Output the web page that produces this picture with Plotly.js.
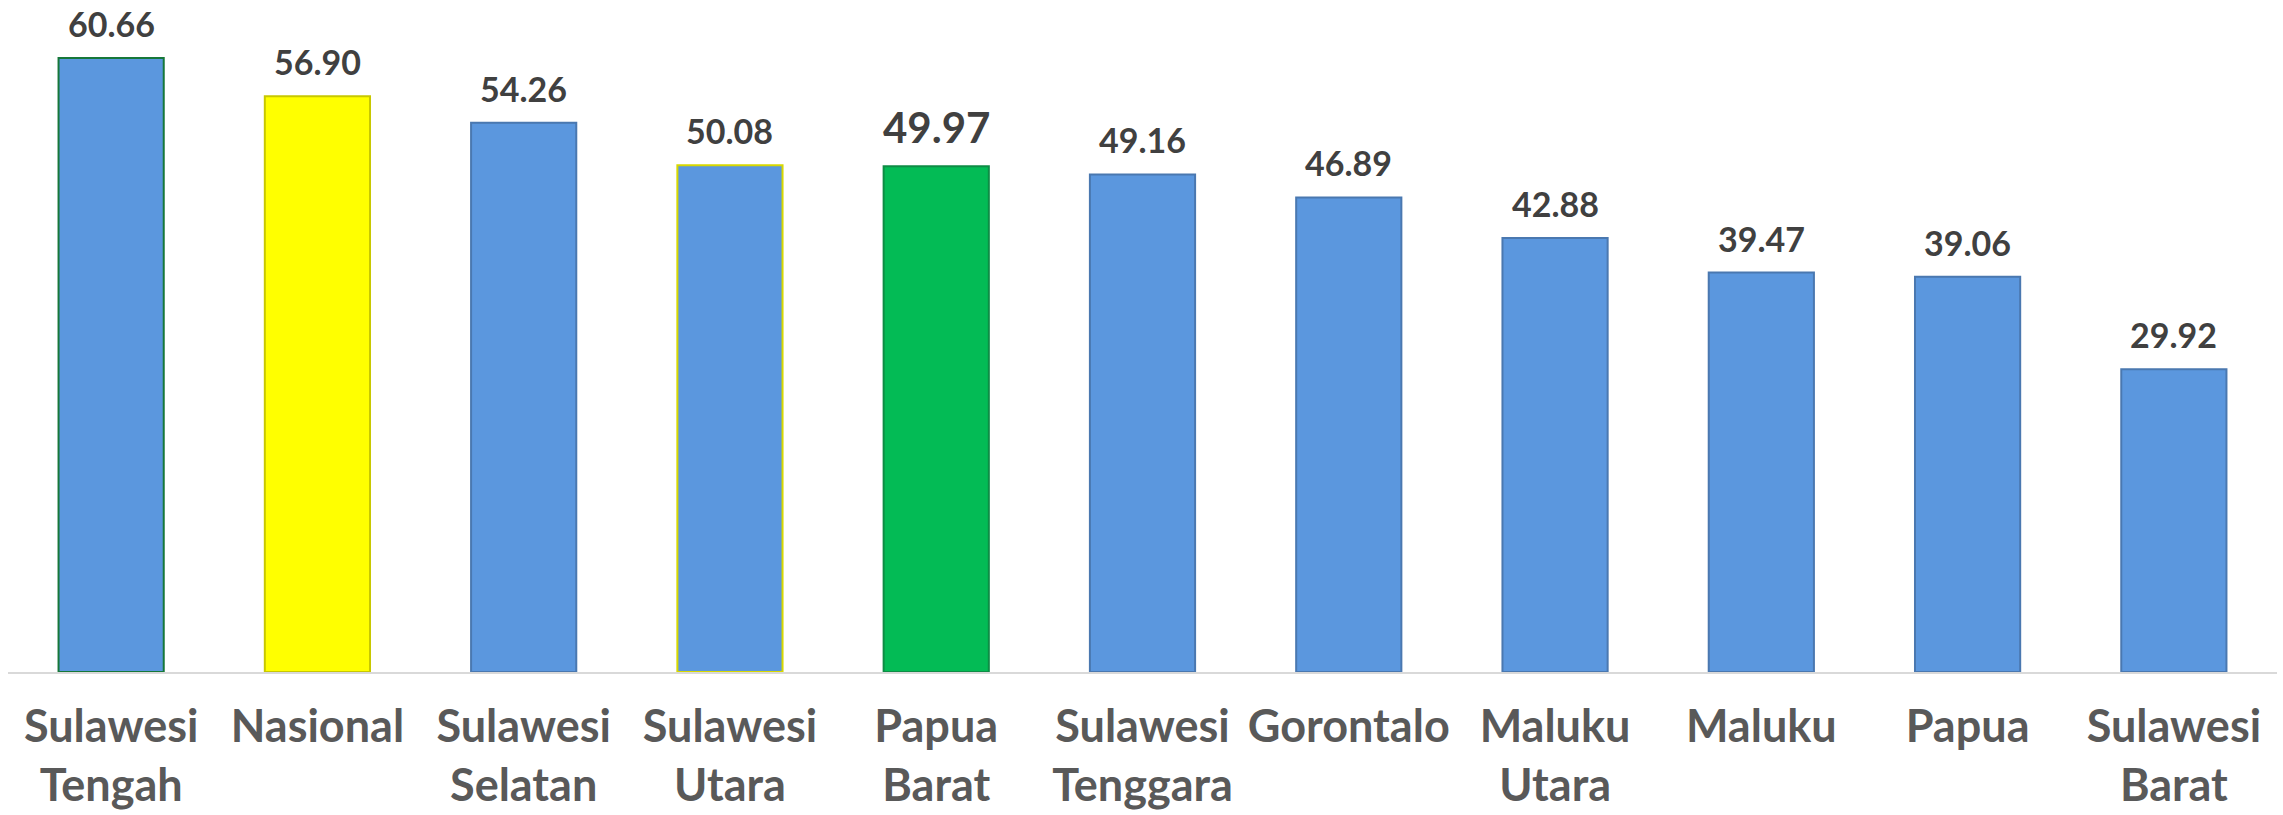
<!DOCTYPE html>
<html>
<head>
<meta charset="utf-8">
<script src="https://cdn.plot.ly/plotly-3.0.1.min.js"></script>
<style>html,body{margin:0;padding:0;background:#fff;}#chart{width:2283px;height:815px;}</style>
</head>
<body>
<div id="chart"></div>
<script>
const categories = ["Sulawesi<br>Tengah","Nasional","Sulawesi<br>Selatan","Sulawesi<br>Utara","Papua<br>Barat","Sulawesi<br>Tenggara","Gorontalo","Maluku<br>Utara","Maluku","Papua","Sulawesi<br>Barat"];
const values = [60.66, 56.90, 54.26, 50.08, 49.97, 49.16, 46.89, 42.88, 39.47, 39.06, 29.92];
const valueLabels = ["60.66","56.90","54.26","50.08","49.97","49.16","46.89","42.88","39.47","39.06","29.92"];
const fillColors = ["#5B97DE","#FFFF00","#5B97DE","#5B97DE","#03BB55","#5B97DE","#5B97DE","#5B97DE","#5B97DE","#5B97DE","#5B97DE"];
const edgeColors = ["#16773A","#C8C800","#4A78B0","#D8D800","#0E8C45","#4A78B0","#4A78B0","#4A78B0","#4A78B0","#4A78B0","#4A78B0"];
const labelSizes = [34,34,34,34,42,34,34,34,34,34,34];

const trace = {
  type: 'bar',
  x: categories,
  y: values,
  marker: {color: fillColors, line: {color: edgeColors, width: 2}},
  hoverinfo: 'none'
};

const annotations = categories.map((c, i) => ({
  x: c, y: values[i], xref: 'x', yref: 'y',
  text: '<b>' + valueLabels[i] + '</b>',
  showarrow: false, yanchor: 'bottom', yshift: 12,
  font: {family: 'Lato, "DejaVu Sans", sans-serif', size: labelSizes[i], color: '#404040'}
}));

const layout = {
  width: 2283, height: 815,
  margin: {l: 8, r: 6, t: 0, b: 143},
  paper_bgcolor: '#ffffff', plot_bgcolor: '#ffffff',
  bargap: 0.49,
  showlegend: false,
  xaxis: {
    type: 'category',
    showline: true, linecolor: '#D9D9D9', linewidth: 2,
    ticks: '', showgrid: false,
    tickfont: {family: 'Lato, "DejaVu Sans", sans-serif', size: 45, color: '#595959', weight: 'bold'},
    ticklabelstandoff: 14
  },
  yaxis: {range: [0, 66.4], visible: false, showgrid: false, zeroline: false},
  annotations: annotations
};

Plotly.newPlot('chart', [trace], layout, {displayModeBar: false, staticPlot: true});
</script>
</body>
</html>
